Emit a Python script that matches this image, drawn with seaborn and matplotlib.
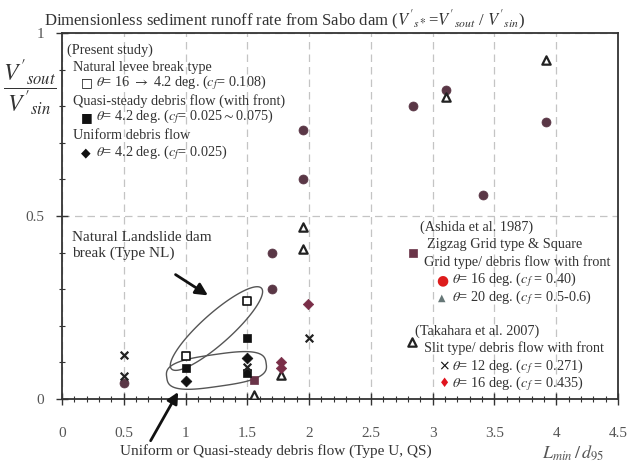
import numpy as np
import pandas as pd
import matplotlib
matplotlib.use("Agg")
import matplotlib.pyplot as plt
import seaborn as sns
from matplotlib.patches import Polygon
from matplotlib.transforms import IdentityTransform
from matplotlib.ticker import MultipleLocator, FuncFormatter

# ---- measured runoff rates (L_min/d95, V'sout/V'sin) ----
levee_x = [1.0, 1.5]
levee_y = [0.117, 0.268]
quasi_x = [1.0, 1.5, 1.5]
quasi_y = [0.084, 0.167, 0.072]
uniform_x = [1.0, 1.5]
uniform_y = [0.049, 0.112]
ashida16_x = [1.70, 1.70, 1.95, 1.95, 2.84, 3.11, 3.41, 3.92, 0.50]
ashida16_y = [0.40, 0.30, 0.735, 0.60, 0.80, 0.845, 0.557, 0.758, 0.044]
ashida16sq_x = [2.84, 1.55]
ashida16sq_y = [0.40, 0.052]
ashida20_x = [1.95, 1.95, 2.83, 3.11, 3.92, 1.55, 1.77]
ashida20_y = [0.47, 0.41, 0.156, 0.826, 0.926, 0.01, 0.066]
tak12_x = [0.50, 0.50, 1.50, 2.00]
tak12_y = [0.12, 0.063, 0.088, 0.166]
tak16_x = [1.77, 1.77, 1.99]
tak16_y = [0.100, 0.085, 0.26]

x_ticks = [0, 0.5, 1, 1.5, 2, 2.5, 3, 3.5, 4, 4.5]
y_ticks = [0, 0.5, 1]

sns.set_theme(style="white")
plt.rcParams["font.family"] = ["Liberation Serif", "DejaVu Serif"]
plt.rcParams["mathtext.fontset"] = "stix"

TXT = "#333333"
MAROON = "#5a3746"

fig = plt.figure(figsize=(6.39, 4.65), dpi=100)
ax = fig.add_axes([62 / 639, 1 - 399 / 465, 556 / 639, 366 / 465])
ax.set_xlim(0, 4.5)
ax.set_ylim(0, 1)

frames = [
    ("levee", levee_x, levee_y),
    ("quasi", quasi_x, quasi_y),
    ("uniform", uniform_x, uniform_y),
    ("ashida16", ashida16_x, ashida16_y),
    ("ashida16sq", ashida16sq_x, ashida16sq_y),
    ("ashida20", ashida20_x, ashida20_y),
    ("tak12", tak12_x, tak12_y),
    ("tak16", tak16_x, tak16_y),
]
df = pd.concat([pd.DataFrame({"ratio": xs, "runoff": ys, "series": name})
                for name, xs, ys in frames], ignore_index=True)

styles = {
    "ashida16": dict(marker="o", color=MAROON, s=42, edgecolor=MAROON, linewidth=0.5),
    "ashida16sq": dict(marker="s", color="#6a3448", s=32, edgecolor="#6a3448", linewidth=0.5),
    "levee": dict(marker="s", color="white", s=34, edgecolor="#111111", linewidth=1.2),
    "quasi": dict(marker="s", color="#111111", s=34, edgecolor="#111111", linewidth=0.5),
    "uniform": dict(marker="D", color="#111111", s=30, edgecolor="#111111", linewidth=0.5),
    "ashida20": dict(marker="^", color="white", s=36, edgecolor="#222222", linewidth=1.6),
    "tak12": dict(marker="x", color="#222222", s=30, linewidth=1.6),
    "tak16": dict(marker="D", color="#7a2e48", s=28, edgecolor="#7a2e48", linewidth=0.5),
}
for name, st in styles.items():
    sub = df[df["series"] == name]
    sns.scatterplot(data=sub, x="ratio", y="runoff", ax=ax, legend=False, zorder=4, **st)

# axes styling
ax.set_xlabel("")
ax.set_ylabel("")
ax.xaxis.set_minor_locator(MultipleLocator(0.1))
ax.yaxis.set_minor_locator(MultipleLocator(0.1))
ax.set_xticks(x_ticks)
ax.set_yticks(y_ticks)
fmt = FuncFormatter(lambda v, p: f"{v:g}")
ax.xaxis.set_major_formatter(fmt)
ax.yaxis.set_major_formatter(fmt)
ax.tick_params(axis="both", which="major", direction="inout", length=8, width=1.0,
               color="#333333", labelcolor="#555555", labelsize=11,
               bottom=True, left=True, top=False, right=False)
ax.tick_params(axis="both", which="minor", direction="inout", length=5, width=0.8,
               color="#333333", bottom=True, left=True, top=False, right=False)
ax.tick_params(axis="x", which="major", pad=16)
ax.tick_params(axis="y", which="major", pad=9)
for sp in ax.spines.values():
    sp.set_color("#333333")
    sp.set_linewidth(1.3)
ax.grid(True, which="major", color="#c4c4c4", linestyle=(0, (6, 4)), linewidth=0.9)
ax.set_axisbelow(True)


def loop(p0, p1, pad, half_w, power=2.0, n=300, **kw):
    a, b = ax.transData.transform([p0, p1])
    c = (a + b) / 2
    d = b - a
    L = np.hypot(*d)
    u = d / L
    v = np.array([-u[1], u[0]])
    t = np.linspace(0, 2 * np.pi, n)
    ct, st = np.cos(t), np.sin(t)
    r = 2.0 / power
    xs = np.sign(ct) * np.abs(ct) ** r * (L / 2 + pad)
    ys = np.sign(st) * np.abs(st) ** r * half_w
    pts = c + np.outer(xs, u) + np.outer(ys, v)
    ax.add_patch(Polygon(pts, closed=True, fill=False, transform=IdentityTransform(), **kw))


loop((1.0, 0.117), (1.5, 0.268), 19, 15, power=2.0, edgecolor="#555555", linewidth=1.0, zorder=3)
loop((1.0, 0.066), (1.5, 0.090), 19, 16, power=3.0, edgecolor="#555555", linewidth=1.0, zorder=3)

# annotations with arrows
ax.annotate("", xy=(1.20, 0.279), xytext=(0.90, 0.344),
            arrowprops=dict(arrowstyle="-|>,head_length=0.6,head_width=0.3", color="#111111", lw=2.0))
ax.text(0.08, 0.42, "Natural Landslide dam\nbreak (Type NL)", fontsize=11, color=TXT,
        va="center", ha="left", linespacing=1.25)
ax.annotate("Uniform or Quasi-steady debris flow (Type U, QS)", xy=(0.94, 0.019),
            xytext=(1.73, -0.142), textcoords="data", fontsize=11, color=TXT,
            ha="center", va="center", annotation_clip=False,
            arrowprops=dict(arrowstyle="-|>,head_length=0.6,head_width=0.3", color="#111111",
                            lw=2.0, relpos=(0.09, 0.9), shrinkA=0, shrinkB=0))

# legend blocks
T = ax.transAxes
FS = 10.3
GL = dict(transform=T, va="center", family=["DejaVu Sans"])
LB = dict(transform=T, fontsize=FS, color=TXT, va="center")

ax.text(0.009, 0.954, "(Present study)", **LB)
ax.text(0.020, 0.907, "Natural levee break type", **LB)
ax.text(0.034, 0.863, "\u25a1", fontsize=9, color="#111111", **GL)
ax.text(0.062, 0.863, r"$\theta$= 16 $\rightarrow$ 4.2 deg. ($c_f$= 0.108)", **LB)
ax.text(0.020, 0.814, "Quasi-steady debris flow (with front)", **LB)
ax.text(0.034, 0.770, "\u25a0", fontsize=9, color="#111111", **GL)
ax.text(0.062, 0.770, r"$\theta$= 4.2 deg. ($c_f$= 0.025$\sim$0.075)", **LB)
ax.text(0.020, 0.719, "Uniform debris flow", **LB)
ax.text(0.034, 0.672, "\u25c6", fontsize=9, color="#111111", **GL)
ax.text(0.062, 0.672, r"$\theta$= 4.2 deg. ($c_f$= 0.025)", **LB)

ax.text(0.644, 0.469, "(Ashida et al. 1987)", **LB)
ax.text(0.656, 0.423, "Zigzag Grid type & Square", **LB)
ax.text(0.651, 0.374, "Grid type/ debris flow with front", **LB)
ax.text(0.674, 0.325, "\u25cf", fontsize=10, color="#dd1c1c", **GL)
ax.text(0.702, 0.325, r"$\theta$= 16 deg. ($c_f$ = 0.40)", **LB)
ax.text(0.677, 0.276, "\u25b2", fontsize=7, color="#667777", **GL)
ax.text(0.702, 0.276, r"$\theta$= 20 deg. ($c_f$ = 0.5-0.6)", **LB)
ax.text(0.635, 0.185, "(Takahara et al. 2007)", **LB)
ax.text(0.651, 0.139, "Slit type/ debris flow with front", **LB)
ax.text(0.677, 0.089, "\u00d7", fontsize=10, color="#111111", **GL)
ax.text(0.702, 0.089, r"$\theta$= 12 deg. ($c_f$ = 0.271)", **LB)
ax.text(0.677, 0.041, "\u2666", fontsize=9, color="#e0141e", **GL)
ax.text(0.702, 0.041, r"$\theta$= 16 deg. ($c_f$ = 0.435)", **LB)

# axis titles
ax.text(0.919, -0.145, r"$L_{min}\,/\,d_{95}$", transform=T, fontsize=13, color="#555555",
        ha="center", va="center")
ax.text(-0.058, 0.85, r"$\dfrac{V'_{sout}}{V'_{sin}}$", transform=T, fontsize=17, color=TXT,
        ha="center", va="center")
fig.text(285 / 639, 1 - 20 / 465,
         r"Dimensionless sediment runoff rate from Sabo dam ($V'_{s*}$=$V'_{sout}$ / $V'_{sin}$)",
         fontsize=12, color=TXT, ha="center", va="center")

fig.savefig("out.png", dpi=100, facecolor="white")
